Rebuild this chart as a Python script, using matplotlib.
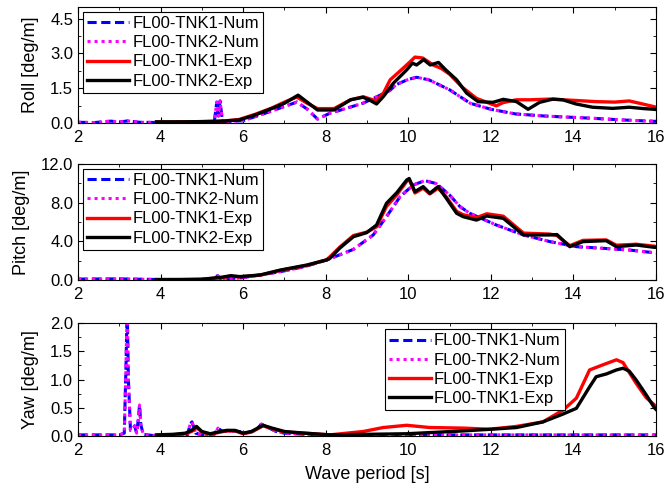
import matplotlib.pyplot as plt
from matplotlib.ticker import MultipleLocator

plt.rcParams['font.family'] = ['Liberation Sans', 'DejaVu Sans']
plt.rcParams['font.size'] = 11

# Roll RAO
roll_num_T = [2.0, 2.4, 2.8, 3.0, 3.2, 3.5, 4.0, 4.5, 5.0, 5.3, 5.36, 5.40, 5.44, 5.5,
              6.0, 6.5, 6.9, 7.3, 7.55, 7.8, 8.1, 8.4, 8.9, 9.2, 9.55, 9.7, 10.0, 10.2,
              10.5, 11.0, 11.5, 12.0, 12.6, 13.3, 13.9, 14.5, 15.2, 16.0]
roll_num = [0.03, 0.02, 0.08, 0.04, 0.09, 0.03, 0.02, 0.03, 0.04, 0.05, 0.9, 0.3, 0.95, 0.05,
            0.1, 0.4, 0.65, 0.9, 0.6, 0.17, 0.42, 0.58, 0.85, 1.1, 1.4, 1.65, 1.88, 1.97,
            1.86, 1.43, 0.85, 0.59, 0.39, 0.30, 0.25, 0.2, 0.13, 0.07]
roll_exp1_T = [3.9, 4.5, 5.0, 5.5, 5.9, 6.3, 6.7, 7.0, 7.3, 7.55, 7.8, 8.2, 8.6, 8.91, 9.05,
               9.23, 9.4, 9.56, 9.88, 10.05, 10.16, 10.35, 10.6, 10.8, 11.0, 11.3, 11.65,
               12.13, 12.3, 12.62, 12.95, 13.43, 14.06, 14.55, 15.0, 15.35, 15.6, 15.96, 16.0]
roll_exp1 = [0.04, 0.05, 0.06, 0.08, 0.15, 0.38, 0.65, 0.9, 1.12, 0.85, 0.62, 0.62, 1.0, 1.13, 1.05,
             0.95, 1.3, 1.86, 2.37, 2.65, 2.84, 2.8, 2.5, 2.35, 2.1, 1.55, 1.06,
             0.74, 0.88, 1.0, 1.0, 1.03, 0.97, 0.92, 0.9, 0.95, 0.85, 0.7, 0.68]
roll_exp2_T = [3.9, 4.5, 5.0, 5.5, 5.9, 6.3, 6.7, 7.0, 7.33, 7.55, 7.8, 8.2, 8.6, 8.9, 9.05,
               9.23, 9.4, 9.64, 9.96, 10.1, 10.2, 10.37, 10.53, 10.73, 10.9, 11.17, 11.41,
               11.69, 12.05, 12.3, 12.62, 12.9, 13.18, 13.5, 13.74, 14.06, 14.46, 14.95,
               15.35, 15.7, 15.96, 16.0]
roll_exp2 = [0.05, 0.05, 0.06, 0.08, 0.13, 0.35, 0.63, 0.85, 1.2, 0.9, 0.56, 0.56, 1.0, 1.11, 1.0,
             0.82, 1.15, 1.72, 2.29, 2.58, 2.5, 2.73, 2.5, 2.61, 2.3, 1.86, 1.29,
             0.92, 0.89, 1.02, 0.92, 0.59, 0.89, 1.03, 1.0, 0.82, 0.68, 0.63,
             0.68, 0.62, 0.59, 0.58]

# Pitch RAO
pitch_num_T = [2.0, 3.0, 4.0, 5.0, 5.3, 5.38, 5.45, 5.6, 5.92, 6.9, 7.5, 8.02, 8.67, 9.15,
               9.47, 9.8, 10.12, 10.4, 10.68, 11.0, 11.25, 11.49, 12.13, 12.79, 13.43,
               14.07, 14.71, 15.36, 16.0]
pitch_num = [0.1, 0.12, 0.05, 0.05, 0.1, 0.45, 0.1, 0.15, 0.2, 0.86, 1.4, 2.07, 3.17, 4.66,
             6.55, 8.62, 9.83, 10.28, 9.97, 8.79, 7.59, 6.9, 5.69, 4.66, 3.97,
             3.45, 3.28, 3.1, 2.8]
pitch_exp_T = [3.9, 4.5, 5.0, 5.5, 5.7, 5.92, 6.41, 6.9, 7.54, 8.02, 8.1, 8.34, 8.67, 8.99,
               9.23, 9.47, 9.72, 9.96, 10.02, 10.16, 10.36, 10.52, 10.72, 10.92, 11.17,
               11.33, 11.65, 11.9, 12.3, 12.79, 13.43, 13.6, 13.91, 14.23, 14.79, 15.04,
               15.52, 15.96, 16.0]
pitch_exp1 = [0.04, 0.05, 0.07, 0.25, 0.4, 0.32, 0.5, 1.0, 1.5, 2.1, 2.4, 3.4, 4.6, 4.95,
              5.5, 7.6, 8.8, 10.2, 10.4, 9.0, 9.5, 8.9, 9.5, 8.6, 7.1,
              6.75, 6.45, 6.85, 6.6, 4.85, 4.75, 4.6, 3.55, 4.1, 4.15, 3.6,
              3.7, 3.5, 3.45]
pitch_exp2 = [0.05, 0.05, 0.08, 0.3, 0.45, 0.35, 0.52, 1.03, 1.55, 2.07, 2.24, 3.3, 4.48, 4.9,
              5.69, 7.93, 9.03, 10.34, 10.5, 9.14, 9.66, 8.97, 9.66, 8.45, 6.9,
              6.55, 6.2, 6.62, 6.38, 4.66, 4.66, 4.7, 3.45, 3.97, 4.07, 3.45,
              3.62, 3.38, 3.38]

# Yaw RAO
yaw_num_T = [2.0, 2.5, 3.0, 3.12, 3.16, 3.19, 3.22, 3.27, 3.33, 3.37, 3.42, 3.46, 3.49, 3.52,
             3.58, 3.8, 4.0, 4.65, 4.72, 4.76, 4.85, 5.0, 5.3, 5.39, 5.5, 5.7, 5.9, 6.05,
             6.3, 6.44, 6.6, 6.8, 7.0, 7.5, 8.0, 9.0, 10.0, 11.0, 12.0, 13.0, 14.0, 15.0, 16.0]
yaw_num = [0.02, 0.02, 0.02, 0.05, 1.2, 2.3, 1.0, 0.1, 0.12, 0.18, 0.05, 0.3, 0.55, 0.2,
           0.03, 0.01, 0.01, 0.02, 0.22, 0.25, 0.05, 0.02, 0.03, 0.14, 0.08, 0.09, 0.08, 0.05,
           0.1, 0.21, 0.15, 0.08, 0.05, 0.03, 0.02, 0.02, 0.02, 0.02, 0.02, 0.02, 0.02, 0.02, 0.02]
yaw_exp1_T = [3.9, 4.3, 4.6, 4.75, 4.87, 5.0, 5.2, 5.45, 5.6, 5.8, 6.0, 6.2, 6.48, 6.7, 7.0,
              7.5, 8.1, 8.91, 9.39, 9.96, 10.52, 11.33, 11.97, 12.62, 13.26, 13.75, 14.07,
              14.39, 14.71, 15.04, 15.2, 15.52, 15.76, 15.96, 16.0]
yaw_exp1 = [0.01, 0.02, 0.04, 0.08, 0.15, 0.07, 0.03, 0.07, 0.09, 0.09, 0.04, 0.07, 0.18, 0.13, 0.07,
            0.05, 0.02, 0.08, 0.15, 0.19, 0.15, 0.14, 0.12, 0.17, 0.25, 0.46, 0.67,
            1.17, 1.26, 1.35, 1.3, 0.93, 0.68, 0.55, 0.52]
yaw_exp2_T = [3.9, 4.3, 4.6, 4.75, 4.87, 5.0, 5.2, 5.45, 5.6, 5.8, 6.0, 6.2, 6.48, 6.7, 7.0,
              7.5, 8.1, 9.0, 9.96, 11.33, 12.0, 12.62, 13.26, 13.75, 14.07, 14.39, 14.55,
              14.8, 15.04, 15.2, 15.35, 15.52, 15.76, 15.96, 16.0]
yaw_exp2 = [0.02, 0.03, 0.05, 0.1, 0.17, 0.08, 0.04, 0.08, 0.1, 0.1, 0.05, 0.08, 0.19, 0.14, 0.08,
            0.05, 0.02, 0.03, 0.04, 0.09, 0.12, 0.15, 0.25, 0.39, 0.49, 0.87, 1.05,
            1.1, 1.17, 1.2, 1.15, 0.99, 0.73, 0.5, 0.47]

labels = ['FL00-TNK1-Num', 'FL00-TNK2-Num', 'FL00-TNK1-Exp', 'FL00-TNK2-Exp']
labels_yaw = ['FL00-TNK1-Num', 'FL00-TNK2-Num', 'FL00-TNK1-Exp', 'FL00-TNK1-Exp']

fig = plt.figure(figsize=(6.67, 4.91), dpi=100)
ax1 = fig.add_axes([0.117, 0.7495, 0.8666, 0.2363])
ax2 = fig.add_axes([0.117, 0.4297, 0.8666, 0.2363])
ax3 = fig.add_axes([0.117, 0.112, 0.8666, 0.230])


def draw(ax, numT, num, e1T, e1, e2T, e2):
    ax.plot(numT, num, color='blue', ls=(0, (3, 1.5)), lw=2.2, label='n1')
    ax.plot(numT, num, color='magenta', ls=(0, (1, 1.3)), lw=2.2, label='n2')
    ax.plot(e1T, e1, color='red', lw=2.4, label='e1')
    ax.plot(e2T, e2, color='black', lw=2.4, label='e2')


draw(ax1, roll_num_T, roll_num, roll_exp1_T, roll_exp1, roll_exp2_T, roll_exp2)
draw(ax2, pitch_num_T, pitch_num, pitch_exp_T, pitch_exp1, pitch_exp_T, pitch_exp2)
draw(ax3, yaw_num_T, yaw_num, yaw_exp1_T, yaw_exp1, yaw_exp2_T, yaw_exp2)

ax1.set_ylim(0, 5.0)
ax1.yaxis.set_major_locator(MultipleLocator(1.5))
ax1.yaxis.set_minor_locator(MultipleLocator(0.75))
ax1.set_ylabel('Roll [deg/m]')

ax2.set_ylim(0, 12)
ax2.yaxis.set_major_locator(MultipleLocator(4))
ax2.yaxis.set_minor_locator(MultipleLocator(2))
ax2.set_ylabel('Pitch [deg/m]')

ax3.set_ylim(0, 2.0)
ax3.yaxis.set_major_locator(MultipleLocator(0.5))
ax3.yaxis.set_minor_locator(MultipleLocator(0.25))
ax3.set_ylabel('Yaw [deg/m]')
ax3.set_xlabel('Wave period [s]', fontsize=13, labelpad=6)

for ax in (ax1, ax2, ax3):
    ax.set_xlim(2, 16)
    ax.xaxis.set_major_locator(MultipleLocator(2))
    ax.xaxis.set_minor_locator(MultipleLocator(1))
    ax.yaxis.set_major_formatter('{x:.1f}')
    ax.tick_params(which='both', direction='in', top=True, right=True, labelsize=12)
    ax.tick_params(which='major', length=4)
    ax.tick_params(which='minor', length=2)
    ax.tick_params(axis='x', pad=5)
    ax.yaxis.label.set_size(13)
    ax.yaxis.labelpad = 8

leg_kw = dict(fancybox=False, edgecolor='black', framealpha=1, fontsize=12,
              handlelength=2.5, labelspacing=0.25, borderpad=0.25, handletextpad=0.2,
              borderaxespad=0.3)
for ax in (ax1, ax2):
    h, _ = ax.get_legend_handles_labels()
    ax.legend(h, labels, loc='upper left', **leg_kw).get_frame().set_linewidth(0.8)
h, _ = ax3.get_legend_handles_labels()
ax3.legend(h, labels_yaw, loc='upper left', bbox_to_anchor=(0.522, 0.99),
           **leg_kw).get_frame().set_linewidth(0.8)

fig.align_ylabels([ax1, ax2, ax3])
fig.savefig('out.png', dpi=100)
